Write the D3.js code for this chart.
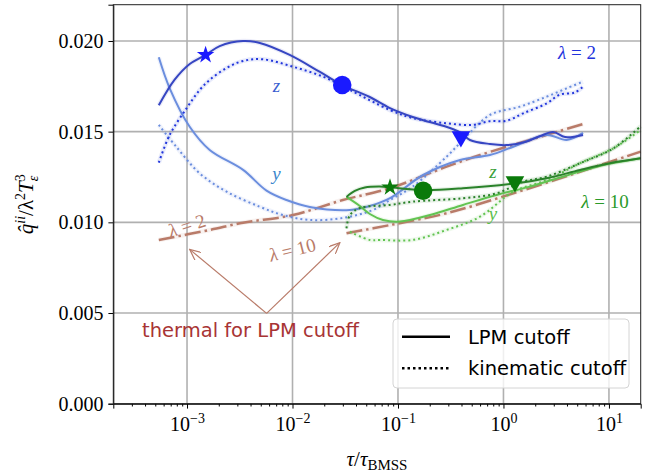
<!DOCTYPE html>
<html lang="en">
<head>
<meta charset="utf-8">
<title>q hat over lambda^2 T^3</title>
<script src="https://cdn.jsdelivr.net/npm/d3@7"></script>
<style>
  body { margin: 0; background: #fff; }
  svg { display: block; }
  .serif { font-family: "Liberation Serif", "DejaVu Serif", serif; }
  .sans { font-family: "DejaVu Sans", sans-serif; }
</style>
</head>
<body>
<script>
// ---- data: [tau/tau_BMSS, qhat/(lambda^2 T^3)] ----
var zLpm2 = [[5.4e-4,0.01645],[7.6e-4,0.01785],[1.06e-3,0.01873],[1.5e-3,0.01923],[2.04e-3,0.01972],
  [3.4e-3,0.0200],[4.9e-3,0.01989],[9.4e-3,0.01923],[1.82e-2,0.01829],[2.96e-2,0.01757],[5.4e-2,0.01691],
  [8.4e-2,0.0163],[0.138,0.01581],[0.2,0.01553],[0.311,0.0152],[0.39,0.01495],[0.481,0.01454],
  [0.745,0.01432],[1.07,0.01426],[1.6,0.01443],[2.23,0.01476],[2.95,0.01498],[3.84,0.0147],[5.68,0.01482]];
var zKin2 = [[5.4e-4,0.01329],[6.85e-4,0.01482],[9.9e-4,0.01629],[1.32e-3,0.0173],[1.64e-3,0.01785],
  [2.37e-3,0.01851],[3.4e-3,0.0189],[5.26e-3,0.01899],[1.01e-2,0.01858],[1.95e-2,0.01803],[3.5e-2,0.0173],
  [8.4e-2,0.01619],[0.138,0.01575],[0.289,0.01546],[0.514,0.01537],[0.745,0.01558],[1.07,0.0156],
  [1.54,0.01601],[2.57,0.01656],[3.44,0.01705],[4.76,0.01716],[5.68,0.01748]];
var yLpm2 = [[5.4e-4,0.0191],[6.85e-4,0.01739],[1.06e-3,0.01527],[1.64e-3,0.01399],[3.4e-3,0.01289],
  [5.67e-3,0.01175],[8.77e-3,0.01123],[1.46e-2,0.01085],[3.5e-2,0.01068],[5.41e-2,0.0109],[8.4e-2,0.01133],
  [0.173,0.01261],[0.387,0.01344],[0.745,0.01371],[1.24,0.01417],[2.57,0.01482],[3.98,0.01454],[5.68,0.01493]];
var yKin2 = [[5.4e-4,0.01537],[7.9e-4,0.01417],[1.32e-3,0.0127],[2.37e-3,0.01169],[4.9e-3,0.01086],
  [8.1e-3,0.0104],[1.46e-2,0.01013],[3.0e-2,0.01024],[5.78e-2,0.01068],[8.4e-2,0.01123],[0.138,0.01197],
  [0.289,0.01362],[0.413,0.01454],[0.745,0.01592],[1.435,0.01638],[2.57,0.01693],[3.98,0.01739],[5.68,0.01776]];

var zLpm10 = [[3.25e-2,0.0114],[3.9e-2,0.01173],[4.85e-2,0.01192],[6.74e-2,0.01197],[8.4e-2,0.01193],
  [0.173,0.01178],[0.413,0.01188],[1.285,0.01215],[2.57,0.01243],[5.32,0.01289],[10.2,0.01326],[20,0.01353]];
var yLpm10 = [[3.25e-2,0.0114],[4.35e-2,0.0109],[5.41e-2,0.01046],[7.2e-2,0.01013],[0.104,0.01004],
  [0.201,0.0104],[0.413,0.01096],[0.861,0.01151],[1.78,0.01197],[3.67,0.01252],[7.66,0.01307],[20,0.01353]];
var zKin10 = [[3.25e-2,0.00967],[3.5e-2,0.0104],[4.35e-2,0.01079],[8.4e-2,0.01096],[0.138,0.01114],
  [0.413,0.01133],[0.861,0.0116],[1.54,0.01224],[2.57,0.01252],[5.32,0.01326],[11.0,0.01408],[20,0.0153]];
var yKin10 = [[3.5e-2,0.00948],[5.41e-2,0.00903],[6.74e-2,0.00903],[0.138,0.00903],[0.289,0.00958],
  [0.599,0.01031],[1.24,0.01169],[2.57,0.01233],[5.32,0.01326],[11.0,0.01408],[20,0.01509]];

var thermal2 = [[5.4e-4,0.00903],[1.64e-3,0.00958],[3.4e-3,0.00998],[1.01e-2,0.0104],[3.0e-2,0.01123],
  [8.4e-2,0.01188],[0.289,0.01307],[0.6,0.01371],[1.78,0.01454],[5.68,0.01542]];
var thermal10 = [[3.25e-2,0.0094],[8.4e-2,0.00985],[0.289,0.0105],[1.24,0.0116],[5.32,0.01279],[20,0.0139]];

// markers: star, circle, triangle
var markers2 = [['star',1.5e-3,0.01923],['circle',2.96e-2,0.01757],['tri',0.395,0.01472]];
var markers10 = [['star',8.4e-2,0.01193],['circle',0.173,0.01174],['tri',1.285,0.01224]];

var xTicks = [1e-3, 1e-2, 1e-1, 1, 10];
var xTickExp = ['\u22123', '\u22122', '\u22121', '0', '1'];
var yTicks = [0, 0.005, 0.010, 0.015, 0.020];

// ---- layout ----
var w = 656, h = 474;
var margin = {left: 113.3, right: 15.3, top: 4.7, bottom: 70.3};
var pw = w - margin.left - margin.right;
var ph = h - margin.top - margin.bottom;

var blueDark = '#3646c2', blueKin = '#2236dc', blueLight = '#6b8ede';
var greenDark = '#2a822a', greenLight = '#62c452';
var brown = '#b97b69';

var svg = d3.select('body').append('svg').attr('width', w).attr('height', h);
var g = svg.append('g').attr('transform', 'translate(' + margin.left + ',' + margin.top + ')');

var xScale = d3.scaleLog().domain([2e-4, 20]).range([0, pw]);
var yScale = d3.scaleLinear().domain([0, 0.022]).range([ph, 0]);

// grid
g.append('g').selectAll('line').data(xTicks).enter().append('line')
  .attr('x1', function(d) { return xScale(d); }).attr('x2', function(d) { return xScale(d); })
  .attr('y1', 0).attr('y2', ph)
  .attr('stroke', '#b0b0b0').attr('stroke-width', 1.6);
g.append('g').selectAll('line').data(yTicks).enter().append('line')
  .attr('y1', function(d) { return yScale(d); }).attr('y2', function(d) { return yScale(d); })
  .attr('x1', 0).attr('x2', pw)
  .attr('stroke', '#b0b0b0').attr('stroke-width', 1.6);

var line = d3.line()
  .x(function(d) { return xScale(d[0]); })
  .y(function(d) { return yScale(d[1]); })
  .curve(d3.curveCatmullRom.alpha(0.5));

var plot = g.append('g');
function curve(data, color, style, width) {
  // faint band underneath, like the error bars in the original
  plot.append('path').datum(data).attr('d', line)
    .attr('fill', 'none').attr('stroke', color).attr('stroke-opacity', 0.1)
    .attr('stroke-width', 4.5);
  var p = plot.append('path').datum(data).attr('d', line)
    .attr('fill', 'none').attr('stroke', color).attr('stroke-width', width);
  if (style == 'dot') p.attr('stroke-dasharray', '2,3');
  if (style == 'dashdot') p.attr('stroke-dasharray', '16,4,2.5,4');
}

curve(thermal2, brown, 'dashdot', 2.5);
curve(thermal10, brown, 'dashdot', 2.5);
curve(yKin2, blueLight, 'dot', 2);
curve(yLpm2, blueLight, 'solid', 2);
curve(zKin2, blueKin, 'dot', 2);
curve(zLpm2, blueDark, 'solid', 2);
curve(yKin10, greenLight, 'dot', 2);
curve(yLpm10, greenLight, 'solid', 2);
curve(zKin10, greenDark, 'dot', 2);
curve(zLpm10, greenDark, 'solid', 2);

function drawMarkers(list, color) {
  plot.append('g').selectAll('path').data(list).enter().append('path')
    .attr('d', function(d) {
      if (d[0] == 'star') return d3.symbol().type(d3.symbolStar).size(95)();
      if (d[0] == 'circle') return d3.symbol().type(d3.symbolCircle).size(270)();
      return d3.symbol().type(d3.symbolTriangle).size(150)();
    })
    .attr('transform', function(d) {
      var t = 'translate(' + xScale(d[1]) + ',' + yScale(d[2]) + ')';
      return d[0] == 'tri' ? t + ' rotate(180)' : t;
    })
    .attr('fill', color);
}
drawMarkers(markers2, '#1a1aff');
drawMarkers(markers10, '#0a7a0a');

// axes
var xAxis = d3.axisBottom(xScale).tickValues(xTicks).tickSize(4.9).tickPadding(5).tickFormat('');
var minor = [];
[1e-4, 1e-3, 1e-2, 1e-1, 1, 10].forEach(function(dec) {
  for (var k = 2; k <= 9; k++) { var v = dec * k; if (v > 2e-4 && v < 20) minor.push(v); }
});
var xMinor = d3.axisBottom(xScale).tickValues(minor).tickSize(2.8).tickFormat('');
var yAxis = d3.axisLeft(yScale).tickValues(yTicks).tickSize(4.9).tickPadding(5)
  .tickFormat(d3.format('.3f'));

var gx = g.append('g').attr('transform', 'translate(0,' + ph + ')').call(xAxis);
g.append('g').attr('transform', 'translate(0,' + ph + ')').call(xMinor).select('.domain').remove();
gx.selectAll('.tick').each(function(d, i) {
  var t = d3.select(this).append('text').attr('class', 'serif')
    .attr('fill', '#000').attr('y', 27).attr('text-anchor', 'middle').attr('font-size', 20);
  t.append('tspan').text('10');
  t.append('tspan').attr('font-size', 14).attr('dy', -8).text(xTickExp[i]);
});
var gy = g.append('g').call(yAxis);
gy.selectAll('text').attr('class', 'serif').attr('font-size', 20).attr('fill', '#000');
g.selectAll('.domain').attr('stroke', '#000');
g.selectAll('.tick line').attr('stroke', '#000');

// frame
g.append('rect').attr('width', pw).attr('height', ph)
  .attr('fill', 'none').attr('stroke', '#222').attr('stroke-width', 1);

// curve labels
var labels = [
  ['z', 7.05e-3, 0.01748, '#3a5fd0'],
  ['y', 7.05e-3, 0.01261, '#3a86cc'],
  ['z', 0.795, 0.01272, '#3aa03a'],
  ['y', 0.795, 0.0104, '#5cc04c']
];
g.append('g').selectAll('text').data(labels).enter().append('text')
  .attr('class', 'serif').attr('font-style', 'italic').attr('font-size', 19)
  .attr('text-anchor', 'middle')
  .attr('x', function(d) { return xScale(d[1]); })
  .attr('y', function(d) { return yScale(d[2]) + 5; })
  .attr('fill', function(d) { return d[3]; })
  .text(function(d) { return d[0]; });

function lam(x, y, num, color, rot) {
  var t = g.append('text').attr('class', 'serif').attr('font-size', 19)
    .attr('text-anchor', 'middle').attr('fill', color)
    .attr('transform', 'translate(' + xScale(x) + ',' + yScale(y) + ') rotate(' + rot + ')')
    .attr('dy', 6);
  t.append('tspan').attr('font-style', 'italic').text('\u03bb');
  t.append('tspan').text(' = ' + num);
}
lam(4.98, 0.01934, '2', '#2233dd', 0);
lam(9.18, 0.01112, '10', '#2a9a2a', 0);
lam(1.0e-3, 0.0098, '2', brown, -18);
lam(1.0e-2, 0.00846, '10', brown, -14);

// arrows to the thermal lines
svg.append('defs').append('marker').attr('id', 'head')
  .attr('viewBox', '0 0 12 10').attr('refX', 11).attr('refY', 5)
  .attr('markerWidth', 12).attr('markerHeight', 10).attr('markerUnits', 'userSpaceOnUse')
  .attr('orient', 'auto')
  .append('path').attr('d', 'M0,0 L11,5 L0,10').attr('fill', 'none').attr('stroke', brown).attr('stroke-width', 1.2);
var apex = [5.68e-3, 0.00498];
var heads = [[1.06e-3, 0.00851], [2.81e-2, 0.00888]];
g.append('g').selectAll('line').data(heads).enter().append('line')
  .attr('x1', xScale(apex[0])).attr('y1', yScale(apex[1]))
  .attr('x2', function(d) { return xScale(d[0]); })
  .attr('y2', function(d) { return yScale(d[1]); })
  .attr('stroke', brown).attr('stroke-width', 1.2)
  .attr('marker-end', 'url(#head)');
g.append('text').attr('class', 'sans').attr('font-size', 19.5).attr('fill', '#a83434')
  .attr('text-anchor', 'middle')
  .attr('x', xScale(4.0e-3)).attr('y', yScale(0.00368))
  .text('thermal for LPM cutoff');

// legend
var lg = svg.append('g').attr('transform', 'translate(393,319)');
lg.append('rect').attr('width', 236).attr('height', 69).attr('rx', 4)
  .attr('fill', '#fff').attr('fill-opacity', 0.8).attr('stroke', '#d4d4d4').attr('stroke-width', 1);
lg.append('line').attr('x1', 9).attr('x2', 57).attr('y1', 17.7).attr('y2', 17.7)
  .attr('stroke', '#000').attr('stroke-width', 2.5);
lg.append('line').attr('x1', 9).attr('x2', 57).attr('y1', 49.3).attr('y2', 49.3)
  .attr('stroke', '#000').attr('stroke-width', 2.5).attr('stroke-dasharray', '2.5,3');
lg.append('text').attr('class', 'sans').attr('font-size', 19.5).attr('x', 75).attr('y', 24.7).text('LPM cutoff');
lg.append('text').attr('class', 'sans').attr('font-size', 19.5).attr('x', 75).attr('y', 56.3).text('kinematic cutoff');

// axis titles
var xl = svg.append('text').attr('class', 'serif').attr('font-size', 21).attr('text-anchor', 'middle')
  .attr('x', margin.left + pw / 2).attr('y', 466);
xl.append('tspan').attr('font-style', 'italic').text('\u03c4');
xl.append('tspan').text('/');
xl.append('tspan').attr('font-style', 'italic').text('\u03c4');
xl.append('tspan').attr('font-size', 15).attr('dy', 4).text('BMSS');

var yl = svg.append('text').attr('class', 'serif').attr('font-size', 21).attr('text-anchor', 'middle')
  .attr('transform', 'translate(33,' + (margin.top + ph / 2) + ') rotate(-90)');
yl.append('tspan').attr('font-style', 'italic').text('q\u0302');
yl.append('tspan').attr('font-style', 'italic').attr('font-size', 14).attr('dy', -8).text('ii');
yl.append('tspan').attr('dy', 8).text('/\u03bb');
yl.append('tspan').attr('font-size', 14).attr('dy', -8).text('2');
yl.append('tspan').attr('font-style', 'italic').attr('dy', 8).text('T');
yl.append('tspan').attr('font-size', 14).attr('dy', -8).text('3');
yl.append('tspan').attr('font-style', 'italic').attr('font-size', 14).attr('dx', -7).attr('dy', 13).text('\u03b5');
</script>
</body>
</html>
